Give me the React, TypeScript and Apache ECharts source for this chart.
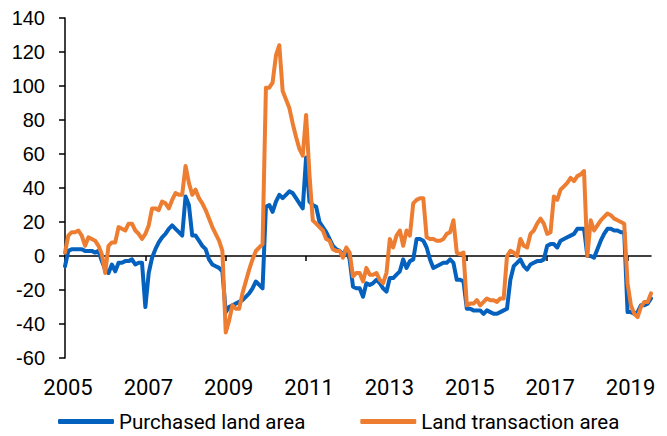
import React, { useEffect, useRef } from "react";
import * as echarts from "echarts";

const START_YEAR = 2005;
const MONTH_COUNT = 176;
const months: string[] = Array.from({ length: MONTH_COUNT }, (_, i) => {
  const y = START_YEAR + Math.floor(i / 12);
  const m = (i % 12) + 1;
  return `${y}-${m < 10 ? "0" + m : m}`;
});

const seriesNames = ["Purchased land area", "Land transaction area"];

const purchasedLandArea = [
  -6, 3, 4, 4, 4, 4, 3, 3, 3, 2, 3, -3,
  -8, -10, -5, -9, -4, -4, -3, -3, -2, -5, -4, -4,
  -30, -10, -1, 4, 8, 11, 13, 16, 18, 16, 14, 12,
  35, 30, 12, 12, 9, 6, 4, -2, -5, -6, -7, -9,
  -33, -30, -29, -28, -27, -26, -24, -22, -19, -15, -17, -19,
  29, 30, 26, 32, 36, 34, 36, 38, 37, 34, 31, 28,
  58, 32, 30, 29, 20, 17, 14, 10, 6, 4, 3, 1,
  4, -2, -18, -19, -19, -24, -16, -17, -16, -14, -16, -19,
  -21, -13, -13, -11, -9, -2, -7, -3, -2, 10, 10, 9,
  5, -2, -7, -6, -5, -4, -4, -2, -4, -14, -14, -15,
  -31, -31, -32, -32, -32, -34, -32, -33, -34, -34, -33, -32,
  -31, -14, -6, -4, -2, -6, -8, -5, -4, -3, -3, -2,
  6, 7, 7, 5, 9, 10, 11, 12, 13, 16, 16, 16,
  0, 0, -1, 4, 9, 13, 16, 16, 15, 15, 14, 14,
  -33, -33, -34, -33, -29, -29, -28, -25,
];

const landTransactionArea = [
  2, 12, 14, 14, 15, 12, 6, 11, 10, 9, 6, 1,
  -10, 6, 8, 8, 17, 16, 15, 19, 19, 15, 13, 10,
  13, 18, 28, 28, 27, 32, 31, 28, 33, 37, 36, 36,
  53, 43, 36, 39, 34, 31, 27, 22, 17, 13, 9, 3,
  -45, -38, -29, -31, -31, -22, -15, -8, -2, 3, 5, 7,
  99, 99, 102, 118, 124, 97, 92, 87, 78, 70, 63, 59,
  83, 48, 21, 19, 17, 15, 10, 9, 4, 3, 3, -1,
  5, 2, -12, -10, -10, -15, -7, -11, -11, -10, -14, -16,
  -10, 10, 5, 12, 15, 6, 15, 12, 31, 33, 34, 34,
  11, 10, 10, 9, 9, 10, 13, 14, 21, 2, 1, 2,
  -29, -28, -28, -26, -29, -27, -25, -26, -26, -27, -25, -25,
  0, 3, 2, 0, 10, 6, 5, 13, 15, 19, 22, 19,
  13, 14, 35, 33, 39, 41, 43, 46, 44, 47, 48, 50,
  0, 21, 15, 18, 21, 23, 25, 24, 22, 21, 20, 19,
  -16, -29, -34, -36, -30, -27, -27, -22,
];

const yTicks = { min: -60, max: 140, interval: 20 };
const LABEL_EVERY = 24;

const BLUE = "#0561BE";
const ORANGE = "#ED7D31";

export default function App() {
  const ref = useRef<HTMLDivElement>(null);
  useEffect(() => {
    if (!ref.current) return;
    const chart = echarts.init(ref.current, null, { renderer: "svg" });
    chart.setOption({
      animation: false,
      backgroundColor: "#fff",
      grid: {
        left: 65,
        right: 16,
        top: 18,
        bottom: 78,
        containLabel: false,
        outerBoundsMode: "none",
      },
      legend: {
        left: 58,
        top: 411,
        padding: 0,
        itemWidth: 56,
        itemHeight: 5,
        itemGap: 55,
        icon: "roundRect",
        textStyle: { fontFamily: "Roboto", fontSize: 20.5, color: "#000" },
        data: seriesNames,
      },
      xAxis: [
        {
          type: "category",
          data: months,
          boundaryGap: false,
          position: "bottom",
          axisLine: { show: true, onZero: true, lineStyle: { color: "#000", width: 1.5 } },
          axisTick: {
            show: true,
            length: 5,
            interval: (i: number) => i % LABEL_EVERY === 0,
            lineStyle: { color: "#000", width: 1.5 },
          },
          axisLabel: { show: false },
          splitLine: { show: false },
        },
        {
          type: "category",
          data: months,
          boundaryGap: false,
          position: "bottom",
          axisLine: { show: false, onZero: false },
          axisTick: { show: false },
          axisLabel: {
            show: true,
            interval: (i: number) => i % LABEL_EVERY === 0,
            formatter: (v: string) => v.slice(0, 4),
            fontFamily: "Roboto",
            fontSize: 22,
            color: "#000",
            margin: 18,
            padding: [0, 0, 0, 6],
          },
          splitLine: { show: false },
        },
      ],
      yAxis: {
        type: "value",
        min: yTicks.min,
        max: yTicks.max,
        interval: yTicks.interval,
        axisLine: { show: true, lineStyle: { color: "#000", width: 1.5 } },
        axisTick: { show: true, length: 6, lineStyle: { color: "#000", width: 1.5 } },
        axisLabel: {
          fontFamily: "Liberation Sans",
          fontSize: 20,
          color: "#000",
          margin: 20,
        },
        splitLine: { show: false },
      },
      series: [
        {
          name: seriesNames[0],
          type: "line",
          data: purchasedLandArea,
          xAxisIndex: 0,
          showSymbol: false,
          symbol: "none",
          color: BLUE,
          lineStyle: { color: BLUE, width: 4, join: "round", cap: "round" },
        },
        {
          name: seriesNames[1],
          type: "line",
          data: landTransactionArea,
          xAxisIndex: 0,
          showSymbol: false,
          symbol: "none",
          color: ORANGE,
          lineStyle: { color: ORANGE, width: 4, join: "round", cap: "round" },
        },
      ],
    });
    return () => chart.dispose();
  }, []);
  return (
    <div
      ref={ref}
      style={{ position: "fixed", left: 0, top: 0, width: 667, height: 436 }}
    />
  );
}
